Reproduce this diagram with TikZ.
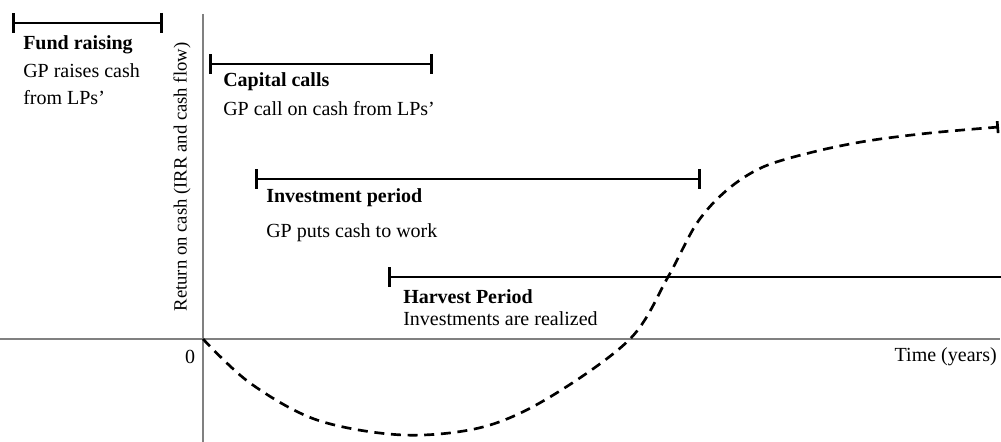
\documentclass[tikz,border=0pt]{standalone}
\usepackage{fontspec}
\setmainfont{Liberation Serif}
\usepackage{tikz}
\usetikzlibrary{positioning}
\usetikzlibrary{arrows.meta}

\tikzset{
	axisline/.style={draw=gray, line width=1.1pt},
	phasebar/.style={line width=2.2pt, {Bar[width=15pt,line width=2.2pt]}-{Bar[width=15pt,line width=2.2pt]}},
	openbar/.style={line width=2.2pt, {Bar[width=15pt,line width=2.2pt]}-},
	phasetitle/.style={anchor=west, inner sep=0pt, font=\fontsize{15}{18}\selectfont\bfseries},
	phasetext/.style={anchor=north west, inner sep=0pt, align=left, font=\fontsize{15}{20}\selectfont},
	cashcurve/.style={line width=2pt, dash pattern=on 7.5pt off 5pt}
}

\begin{document}
\begin{tikzpicture}[x=0.75pt, y=-0.75pt]
			\useasboundingbox (0,0) rectangle (1001,442);
			% axes
			\coordinate (origin) at (203,339);
			\coordinate (ytop) at (203,14);
			\coordinate (ybot) at (203,442);
			\coordinate (xleft) at (0,339);
			\coordinate (xright) at (1000,339);
			\draw[axisline] (ytop) -- (ybot);
			\draw[axisline] (xleft) -- (xright);
			\node[anchor=center, inner sep=0pt, font=\fontsize{15}{18}\selectfont] (zero) at (190,357) {0};
			\node[anchor=east, inner sep=0pt, font=\fontsize{15}{18}\selectfont] (xlabel) at (997,357) {Time (years)};
			\node[rotate=90, inner sep=0pt, font=\fontsize{14}{17}\selectfont] (ylabel) at (182,177) {Return on cash (IRR and cash flow)};
			% phases
			\coordinate (fund-l) at (12,23);
			\coordinate (fund-r) at (163,23);
			\draw[phasebar] (fund-l) -- (fund-r);
			\node[phasetitle] (fundtitle) at (23,45) {Fund raising};
			\node[phasetext, below=7pt of fundtitle.south west, anchor=north west] (fundtext) {GP raises cash\\from LPs'};
			\coordinate (calls-l) at (209,64);
			\coordinate (calls-r) at (433,64);
			\draw[phasebar] (calls-l) -- (calls-r);
			\node[phasetitle] (callstitle) at (223,82) {Capital calls};
			\node[phasetext, below=7pt of callstitle.south west, anchor=north west] (callstext) {GP call on cash from LPs'};
			\coordinate (invest-l) at (255,179);
			\coordinate (invest-r) at (701,179);
			\draw[phasebar] (invest-l) -- (invest-r);
			\node[phasetitle] (investtitle) at (266,198) {Investment period};
			\node[phasetext, below=12pt of investtitle.south west, anchor=north west] (investtext) {GP puts cash to work};
			\coordinate (harvest-l) at (388,277);
			\coordinate (harvest-r) at (1001,277);
			\draw[openbar] (harvest-l) -- (harvest-r);
			\node[phasetitle] (harvesttitle) at (403,297) {Harvest Period};
			\node[phasetext, below=5pt of harvesttitle.south west, anchor=north west] (harvesttext) {Investments are realized};
			% J-curve
			\draw[cashcurve, -{Bar[width=9pt,line width=2pt]}] plot[smooth, tension=0.55] coordinates {
				(203,339) (250,383) (317,420) (403,435) (483,427) (550,397) (630,339)
				(668,277) (697,223) (727,190) (763,167) (813,152) (867,141) (930,133) (999,127)};
	\end{tikzpicture}
\end{document}
